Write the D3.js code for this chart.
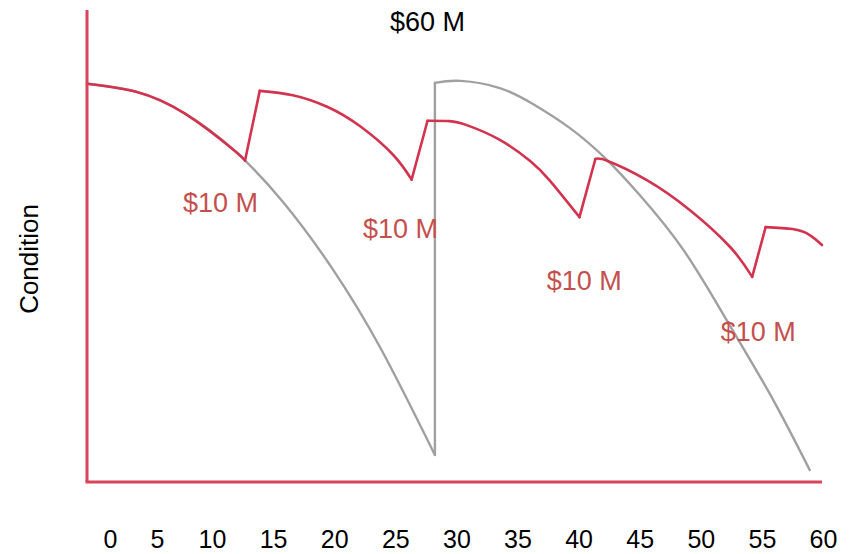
<!DOCTYPE html>
<html>
<head>
<meta charset="utf-8">
<script src="https://cdn.jsdelivr.net/npm/d3@7"></script>
<style>
  html, body { margin: 0; padding: 0; background: #fff; }
  svg { display: block; font-family: "Liberation Sans", Arial, sans-serif; }
</style>
</head>
<body>
<svg id="chart" width="855" height="554"></svg>
<script>
// Asset condition over its life (years): replacement vs. periodic treatment

// Years shown on the horizontal axis
const yearTicks = [0, 5, 10, 15, 20, 25, 30, 35, 40, 45, 50, 55, 60];

// Do-nothing path: decay to failure, full replacement, decay again
const replaceAgeA  = [0, 4, 8, 12, 16, 20, 24, 28.4];
const replaceCondA = [100, 98.0, 92.5, 83.3, 70.3, 53.7, 33.4, 6.8];
const replaceAgeB  = [28.4, 30.5, 33.7, 36.4, 39.4, 42.3, 45.1, 48.7, 52.3, 55.8, 59.0];
const replaceCondB = [100.2, 100.7, 98.9, 94.9, 88.9, 81.3, 72.1, 58.2, 40.2, 21.8, 3.0];

// Preservation path: a treatment every ~13.5 years
const treatAge1  = [0, 4, 8, 12, 12.9];
const treatCond1 = [100, 98.0, 92.5, 83.3, 80.7];
const treatAge2  = [14.1, 16.8, 19.6, 22.3, 25.0, 26.5];
const treatCond2 = [98.2, 97.1, 94.2, 89.3, 82.1, 75.9];
const treatAge3  = [27.8, 29.6, 31.0, 33.7, 36.2, 37.8, 40.2];
const treatCond3 = [90.7, 90.6, 89.6, 85.9, 80.5, 75.6, 66.5];
const treatAge4  = [41.5, 42.5, 45.7, 49.2, 52.5, 54.3];
const treatCond4 = [81.1, 80.6, 75.8, 68.3, 59.0, 51.5];
const treatAge5  = [55.4, 57.6, 59.0, 60.0];
const treatCond5 = [64.0, 63.5, 62.0, 59.5];

// Cost annotations
const costText = ["$60 M", "$10 M", "$10 M", "$10 M", "$10 M"];
const costAge  = [27.8, 10.9, 25.6, 40.6, 54.8];
const costCond = [113.3, 67.8, 61.3, 48.2, 35.4];

const zip = (a, b) => a.map((v, i) => [v, b[i]]);
const replaceSegs = [zip(replaceAgeA, replaceCondA), zip(replaceAgeB, replaceCondB)];
const treatSegs = [
  zip(treatAge1, treatCond1), zip(treatAge2, treatCond2), zip(treatAge3, treatCond3),
  zip(treatAge4, treatCond4), zip(treatAge5, treatCond5)
];

const svg = d3.select("#chart");
const x = d3.scaleLinear().domain([0, 60]).range([87, 822]);
const y = d3.scaleLinear().domain([0, 118.5]).range([482, 10]);
// Year labels sit slightly right at the start of the axis
const xLabel = d3.scaleLinear().domain([0, 5, 10, 60]).range([110, 157, 212, 823]);

const gray = "#a0a0a0";
const red = "#d2334f";
const axisRed = "#d8455a";
const labelRed = "#c4504e";

const smooth = d3.line().x(d => x(d[0])).y(d => y(d[1])).curve(d3.curveNatural);
const straight = d3.line().x(d => x(d[0])).y(d => y(d[1]));

// Draw a path made of smooth segments joined by straight jumps
function drawPath(segs, color, width) {
  const g = svg.append("g").attr("fill", "none").attr("stroke", color)
    .attr("stroke-width", width).attr("stroke-linejoin", "round").attr("stroke-linecap", "round");
  segs.forEach((s, i) => {
    g.append("path").attr("d", smooth(s));
    if (i < segs.length - 1) {
      const next = segs[i + 1];
      g.append("path").attr("d", straight([s[s.length - 1], next[0]]));
    }
  });
}

drawPath(replaceSegs, gray, 2.4);
drawPath(treatSegs, red, 2.6);

// Axis lines
svg.append("line")
  .attr("x1", x(0)).attr("x2", x(0)).attr("y1", y(0)).attr("y2", y(118.5))
  .attr("stroke", axisRed).attr("stroke-width", 3);
svg.append("line")
  .attr("x1", x(0) - 1.5).attr("x2", x(60)).attr("y1", y(0)).attr("y2", y(0))
  .attr("stroke", axisRed).attr("stroke-width", 3);

// Year labels
const xAxis = svg.append("g")
  .attr("transform", "translate(0,530)")
  .call(d3.axisBottom(xLabel).tickValues(yearTicks).tickSize(0).tickPadding(0).tickFormat(d3.format("d")));
xAxis.select(".domain").remove();
xAxis.selectAll("text")
  .attr("font-family", "Liberation Sans, Arial, sans-serif")
  .attr("font-size", 25).attr("fill", "#000").attr("dy", "0.72em");

// Axis title
svg.append("text")
  .attr("transform", `translate(38,${y(56)}) rotate(-90)`)
  .attr("text-anchor", "middle")
  .attr("font-size", 26).attr("fill", "#000")
  .text("Condition");

// Cost labels
svg.append("g").selectAll("text")
  .data(costText)
  .join("text")
  .attr("x", (d, i) => x(costAge[i]))
  .attr("y", (d, i) => y(costCond[i]))
  .attr("text-anchor", "middle")
  .attr("font-size", 27)
  .attr("fill", (d, i) => i === 0 ? "#000" : labelRed)
  .text(d => d);
</script>
</body>
</html>
